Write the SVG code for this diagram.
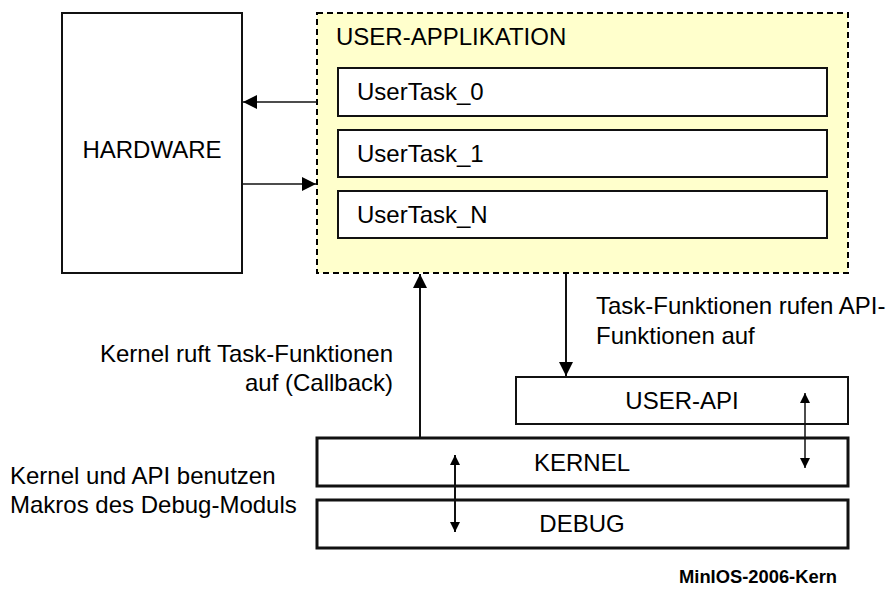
<svg xmlns="http://www.w3.org/2000/svg" width="892" height="589" viewBox="0 0 892 589">
<style>
text{font-family:"Liberation Sans",Arial,sans-serif;font-size:24px;fill:#000}
.box{fill:#fff;stroke:#111;stroke-width:2}
.thick{stroke-width:3}
.c{text-anchor:middle}
.r{text-anchor:end}
.ln{fill:none;stroke:#111;stroke-width:2}
.thin{stroke-width:1.5}
</style>
<defs>
<marker id="ah" viewBox="0 0 10 10" refX="10" refY="5" markerWidth="14" markerHeight="14" markerUnits="userSpaceOnUse" orient="auto-start-reverse">
<path d="M0,0 L10,5 L0,10 z" fill="#000"/>
</marker>
<marker id="ahs" viewBox="0 0 10 10" refX="10" refY="5" markerWidth="10" markerHeight="10" markerUnits="userSpaceOnUse" orient="auto-start-reverse">
<path d="M0,0 L10,5 L0,10 z" fill="#000"/>
</marker>
</defs>
<rect width="892" height="589" fill="#fff"/>
<g id="hardware">
<rect class="box" x="62" y="13" width="180" height="260"/>
<text class="c" x="152" y="158">HARDWARE</text>
</g>
<g id="user-applikation">
<rect x="317" y="13" width="531" height="260" fill="#FFFFCC" stroke="#000" stroke-width="2" stroke-dasharray="6,4"/>
<text x="336" y="45">USER-APPLIKATION</text>
</g>
<g id="usertask0">
<rect class="box" x="338" y="68" width="489" height="48"/>
<text x="357" y="100">UserTask_0</text>
</g>
<g id="usertask1">
<rect class="box" x="338" y="130" width="489" height="47"/>
<text x="357" y="162">UserTask_1</text>
</g>
<g id="usertaskN">
<rect class="box" x="338" y="191" width="489" height="47"/>
<text x="357" y="223">UserTask_N</text>
</g>
<g id="user-api">
<rect class="box" x="516" y="377" width="332" height="47"/>
<text class="c" x="682" y="409">USER-API</text>
</g>
<g id="kernel">
<rect class="box thick" x="317" y="438" width="531" height="48"/>
<text class="c" x="582" y="471">KERNEL</text>
</g>
<g id="debug">
<rect class="box thick" x="317" y="500" width="531" height="48"/>
<text class="c" x="582" y="532">DEBUG</text>
</g>
<g id="connectors">
<line class="ln thin" x1="317" y1="102" x2="243" y2="102" marker-end="url(#ah)"/>
<line class="ln thin" x1="243" y1="184" x2="316" y2="184" marker-end="url(#ah)"/>
<line class="ln" x1="420" y1="437" x2="420" y2="274" marker-end="url(#ah)"/>
<line class="ln" x1="566" y1="274" x2="566" y2="376" marker-end="url(#ah)"/>
<line class="ln thin" x1="805" y1="393" x2="805" y2="468" marker-start="url(#ahs)" marker-end="url(#ahs)"/>
<line class="ln" x1="455" y1="455" x2="455" y2="532" marker-start="url(#ahs)" marker-end="url(#ahs)"/>
</g>
<g id="labels">
<text x="596" y="314">Task-Funktionen rufen API-</text>
<text x="596" y="344">Funktionen auf</text>
<text class="r" x="393" y="362">Kernel ruft Task-Funktionen</text>
<text class="r" x="393" y="391">auf (Callback)</text>
<text x="10" y="484">Kernel und API benutzen</text>
<text x="10" y="513">Makros des Debug-Moduls</text>
<text x="679" y="583" style="font-size:18px;font-weight:bold" textLength="158" lengthAdjust="spacingAndGlyphs">MinIOS-2006-Kern</text>
</g>
</svg>
